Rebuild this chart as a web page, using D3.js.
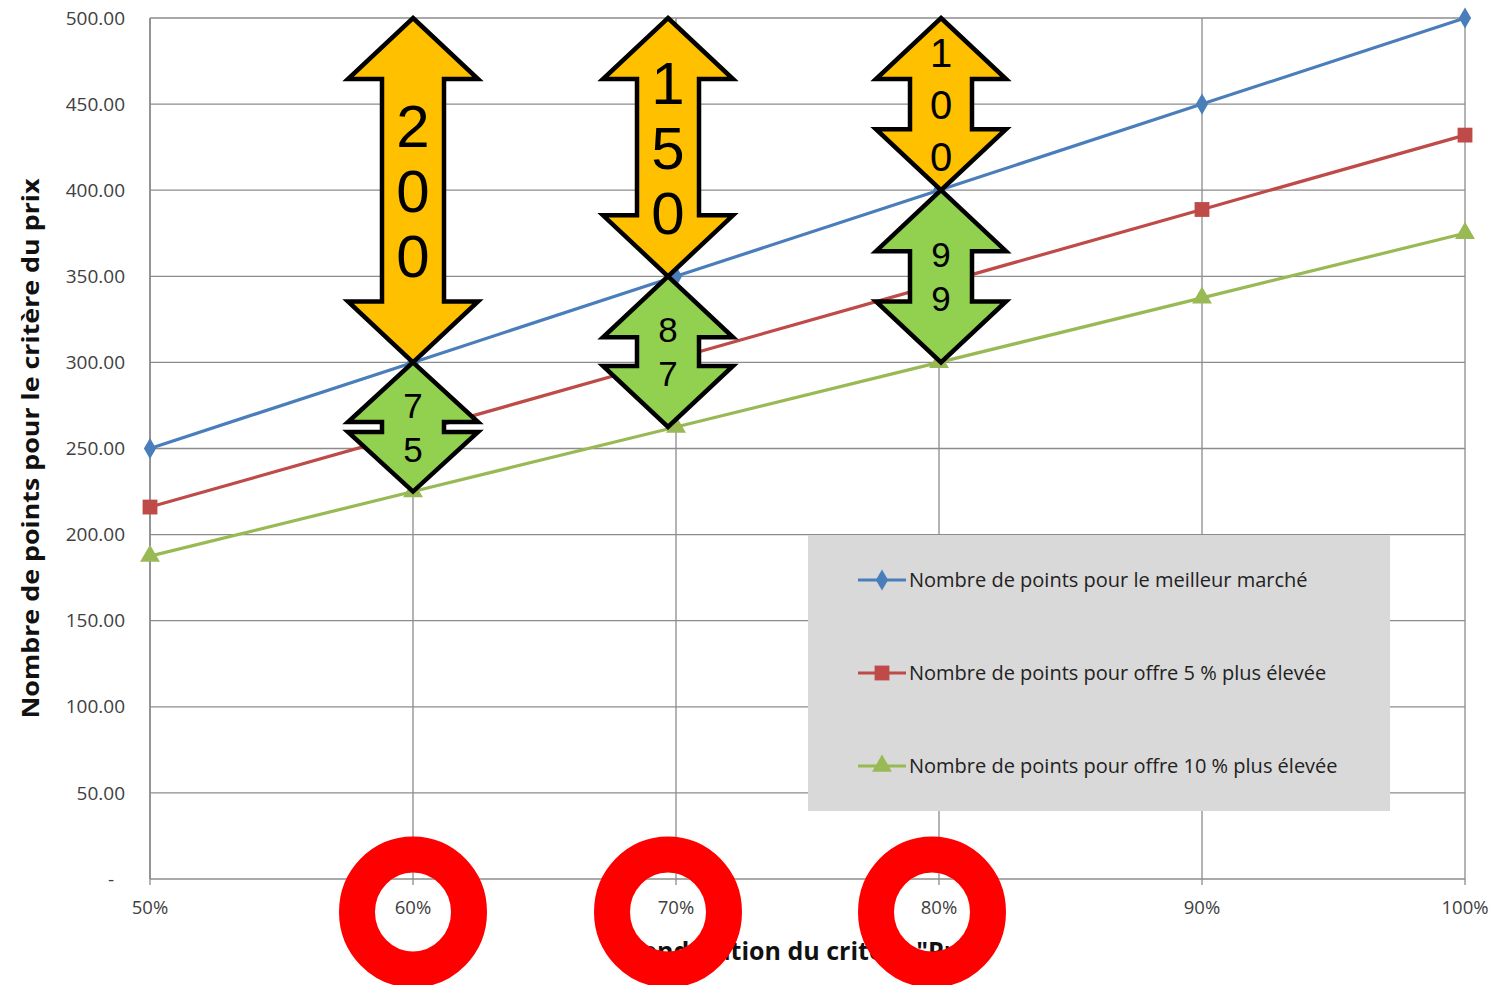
<!DOCTYPE html>
<html><head><meta charset="utf-8">
<script src="https://cdn.jsdelivr.net/npm/d3@7"></script>
<style>body{margin:0;background:#fff}svg{display:block}</style>
</head><body>
<svg id="c" width="1495" height="985"></svg>
<script>
const categories = ["50%","60%","70%","80%","90%","100%"];
const seriesNames = ["Nombre de points pour le meilleur marché","Nombre de points pour offre 5 % plus élevée","Nombre de points pour offre 10 % plus élevée"];
const bestValues = [250,300,350,400,450,500];
const plus5Values = [216,259.2,302.4,345.6,388.8,432];
const plus10Values = [187.5,225,262.5,300,337.5,375];
const yTicks = [0,50,100,150,200,250,300,350,400,450,500];
const arrowCats = ["60%","70%","80%"];
const arrowTop = [500,500,500];
const arrowMid = [300,350,400];
const arrowBottom = [225,262.5,300];
const upperLabels = ["200","150","100"];
const lowerLabels = ["75","87","99"];
const yTitle = "Nombre de points pour le critère du prix";
const xTitle = "Pondération du critère \"Prix\"";

const svg = d3.select("#c");
const L=150,R=1465,T=18,B=879;
const x = d3.scalePoint().domain(categories).range([L,R]);
const y = d3.scaleLinear().domain([0,500]).range([B,T]);
const colors = ["#4a7ebb","#be4b48","#98b954"];
const series = [bestValues,plus5Values,plus10Values];

// gridlines
const g = svg.append("g");
g.selectAll("line.h").data(yTicks.filter(d=>d>0)).join("line")
  .attr("x1",L).attr("x2",R).attr("y1",d=>y(d)).attr("y2",d=>y(d))
  .attr("stroke","#8c8c8c").attr("stroke-width",1.3);
g.selectAll("line.v").data(categories).join("line")
  .attr("x1",d=>x(d)).attr("x2",d=>x(d)).attr("y1",T).attr("y2",B+6)
  .attr("stroke","#8c8c8c").attr("stroke-width",1.3);
g.append("line").attr("x1",L).attr("x2",L).attr("y1",T).attr("y2",B).attr("stroke","#8c8c8c").attr("stroke-width",1.6);
g.append("line").attr("x1",L).attr("x2",R).attr("y1",B).attr("y2",B).attr("stroke","#8c8c8c").attr("stroke-width",1.6);

// y tick labels
const fmt = d => d===0 ? "-" : d3.format(".2f")(d);
svg.append("g").selectAll("text").data(yTicks).join("text")
  .attr("x",d=>d===0?114:125).attr("y",d=>y(d)).attr("dy","0.35em")
  .attr("text-anchor","end").attr("font-family","Open Sans, sans-serif").attr("font-size",19)
  .attr("fill","#404040").text(fmt);
// x tick labels
svg.append("g").selectAll("text").data(categories).join("text")
  .attr("x",d=>x(d)).attr("y",908).attr("dy","0.35em")
  .attr("text-anchor","middle").attr("font-family","Open Sans, sans-serif").attr("font-size",18.5)
  .attr("fill","#404040").text(d=>d);

// axis titles
svg.append("text").attr("transform",`translate(39,${(T+B)/2}) rotate(-90)`)
  .attr("text-anchor","middle").attr("font-family","Open Sans, sans-serif").attr("font-weight","bold")
  .attr("font-size",24).attr("fill","#111").attr("textLength",540).attr("lengthAdjust","spacingAndGlyphs").text(yTitle);
svg.append("text").attr("x",(L+R)/2).attr("y",960)
  .attr("text-anchor","middle").attr("font-family","Open Sans, sans-serif").attr("font-weight","bold")
  .attr("font-size",25).attr("fill","#111").text(xTitle);

// legend box
const lg = svg.append("g");
lg.append("rect").attr("x",808).attr("y",535).attr("width",582).attr("height",276).attr("fill","#d9d9d9");

// series
const line = d3.line().x((d,i)=>x(categories[i])).y(d=>y(d));
const markers = [d3.symbolDiamond, d3.symbolSquare, d3.symbolTriangle];
const msize = [130,220,170];
series.forEach((s,k)=>{
  svg.append("path").datum(s).attr("d",line).attr("fill","none").attr("stroke",colors[k]).attr("stroke-width",3.2);
  svg.append("g").selectAll("path").data(s).join("path")
    .attr("transform",(d,i)=>`translate(${x(categories[i])},${y(d)})`)
    .attr("d",d3.symbol().type(markers[k]).size(msize[k])).attr("fill",colors[k]);
});

// legend entries
const ly = [580,673,766];
seriesNames.forEach((n,k)=>{
  lg.append("line").attr("x1",858).attr("x2",906).attr("y1",ly[k]).attr("y2",ly[k]).attr("stroke",colors[k]).attr("stroke-width",3.2);
  lg.append("path").attr("transform",`translate(882,${ly[k]})`).attr("d",d3.symbol().type(markers[k]).size(msize[k])).attr("fill",colors[k]);
  lg.append("text").attr("x",909).attr("y",ly[k]).attr("dy","0.35em").attr("font-family","Open Sans, sans-serif")
    .attr("font-size",20).attr("fill","#222").text(n);
});

// double arrows (hand-placed overlay shapes, slight horizontal offsets as in the original)
const arrowDx=[0,-8,2], ringDx=[0,-8,-7];
function arrowPath(cx,y1,y2){
  const hw=65, sw=31, hl=Math.min(61,(y2-y1)/2-5);
  return d3.line()([[cx,y1],[cx+hw,y1+hl],[cx+sw,y1+hl],[cx+sw,y2-hl],[cx+hw,y2-hl],[cx,y2],
    [cx-hw,y2-hl],[cx-sw,y2-hl],[cx-sw,y1+hl],[cx-hw,y1+hl]])+"Z";
}
function drawArrow(cx,v1,v2,label,fill,fs,spacing){
  const y1=y(v1), y2=y(v2);
  const ag=svg.append("g");
  ag.append("path").attr("d",arrowPath(cx,y1,y2)).attr("fill",fill).attr("stroke","#000").attr("stroke-width",4.5).attr("stroke-linejoin","miter");
  const digits=label.split(""), mid=(y1+y2)/2;
  ag.selectAll("text").data(digits).join("text")
    .attr("x",cx).attr("y",(d,i)=>mid+(i-(digits.length-1)/2)*spacing).attr("dy","0.36em")
    .attr("text-anchor","middle").attr("font-family","Liberation Sans, Arial, sans-serif").attr("font-size",fs)
    .attr("fill","#000").text(d=>d);
}
const upFs=[60,60,40], upSp=[65,65,52];
arrowCats.forEach((c,i)=>{
  const cx=x(c)+arrowDx[i];
  drawArrow(cx,arrowTop[i],arrowMid[i],upperLabels[i],"#ffc000",upFs[i],upSp[i]);
  drawArrow(cx,arrowMid[i],arrowBottom[i],lowerLabels[i],"#92d050",35,44);
});

// red rings
svg.append("g").selectAll("ellipse").data(arrowCats).join("ellipse")
  .attr("cx",(d,i)=>x(d)+ringDx[i]).attr("cy",912).attr("rx",56).attr("ry",57.5).attr("fill","none")
  .attr("stroke","#ff0000").attr("stroke-width",36);
</script>
</body></html>
